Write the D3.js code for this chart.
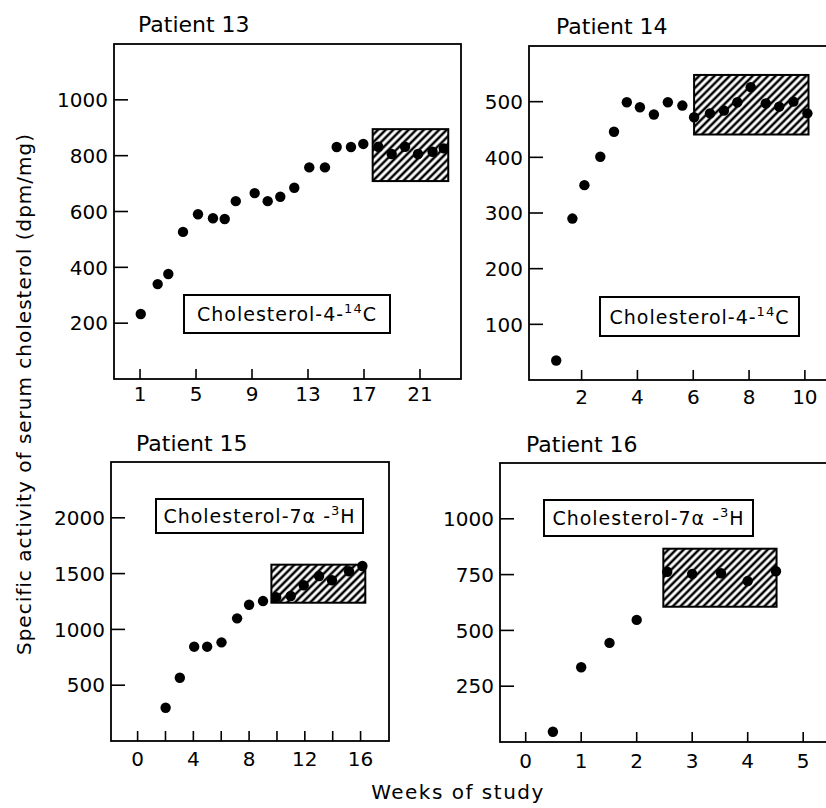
<!DOCTYPE html>
<html>
<head>
<meta charset="utf-8">
<script src="https://cdn.jsdelivr.net/npm/d3@7"></script>
<style>
  body { margin: 0; background: #fff; }
  svg { display: block; font-family: "DejaVu Sans", sans-serif; }
</style>
</head>
<body>
<svg id="chart" width="826" height="808"></svg>
<script>
// values (weeks, dpm/mg)
const weeks13 = [1.05, 2.26, 3.02, 4.07, 5.14, 6.21, 7.05, 7.84, 9.19, 10.12, 11.02, 12.02, 13.09, 14.21, 15.05, 16.07, 16.95, 18.02, 18.98, 19.93, 20.86, 21.9, 22.7];
const act13 = [233, 340, 376, 527, 590, 576, 573, 637, 666, 637, 653, 685, 758, 758, 831, 831, 842, 832, 806, 832, 806, 814, 826];

const weeks14 = [1.09, 1.67, 2.1, 2.67, 3.16, 3.62, 4.09, 4.59, 5.09, 5.61, 6.03, 6.6, 7.1, 7.58, 8.06, 8.6, 9.08, 9.59, 10.09];
const act14 = [35, 290, 350, 401, 446, 499, 490, 477, 499, 493, 472, 479, 484, 499, 526, 497, 491, 500, 479];

const weeks15 = [2.01, 3.03, 4.06, 4.99, 6.02, 7.14, 8.0, 9.0, 9.94, 10.99, 11.92, 13.02, 13.95, 15.17, 16.13];
const act15 = [298, 567, 845, 845, 884, 1099, 1221, 1254, 1288, 1299, 1395, 1478, 1440, 1521, 1568];

const weeks16 = [0.49, 1.0, 1.51, 2.0, 2.55, 3.0, 3.52, 4.0, 4.51];
const act16 = [46, 335, 444, 547, 763, 753, 756, 721, 765];

// plateau ranges (hatched boxes): [week from, week to, low, high]
const band13 = [17.62, 23.02, 709, 895];
const band14 = [6.03, 10.13, 441, 548];
const band15 = [9.6, 16.34, 1239, 1580];
const band16 = [2.48, 4.52, 606, 866];

const ticksX13 = [1, 5, 9, 13, 17, 21];
const ticksX14 = [2, 4, 6, 8, 10];
const ticksX15 = [0, 2, 4, 6, 8, 10, 12, 14, 16];
const labelsX15 = [0, 4, 8, 12, 16];
const ticksX16 = [0, 1, 2, 3, 4, 5];
const ticksY13 = [200, 400, 600, 800, 1000];
const ticksY14 = [100, 200, 300, 400, 500];
const ticksY15 = [500, 1000, 1500, 2000];
const ticksY16 = [250, 500, 750, 1000];

const panels = [
  { title: 'Patient 13', frame: [114, 44, 461, 379], xd: [-0.86, 23.93], yd: [0, 1200],
    wk: weeks13, val: act13, band: band13, xt: ticksX13, xl: ticksX13, yt: ticksY13,
    label: ['Cholesterol-4-', '14', 'C'], lbox: [184, 295, 390, 333], gap: 22, tpos: [138, 32] },
  { title: 'Patient 14', frame: [529, 46, 830, 380], xd: [0.115, 10.9], yd: [0, 600],
    wk: weeks14, val: act14, band: band14, xt: ticksX14, xl: ticksX14, yt: ticksY14,
    label: ['Cholesterol-4-', '14', 'C'], lbox: [600, 297, 799, 336], gap: 24, tpos: [556, 34] },
  { title: 'Patient 15', frame: [111, 462, 389, 741], xd: [-1.91, 18.04], yd: [0, 2500],
    wk: weeks15, val: act15, band: band15, xt: ticksX15, xl: labelsX15, yt: ticksY15,
    label: ['Cholesterol-7\u03b1 -', '3', 'H'], lbox: [156, 499, 363, 533], gap: 25, tpos: [136, 451] },
  { title: 'Patient 16', frame: [500, 463, 830, 742], xd: [-0.463, 5.483], yd: [0, 1250],
    wk: weeks16, val: act16, band: band16, xt: ticksX16, xl: ticksX16, yt: ticksY16,
    label: ['Cholesterol-7\u03b1 -', '3', 'H'], lbox: [544, 500, 753, 536], gap: 26, tpos: [526, 452] },
];

const svg = d3.select('#chart');
const hs = 5.4;

svg.append('defs')
  .append('pattern')
  .attr('id', 'hatch')
  .attr('patternUnits', 'userSpaceOnUse')
  .attr('width', hs)
  .attr('height', hs)
  .attr('patternTransform', 'rotate(45)')
  .call((p) => {
    p.append('rect').attr('width', hs).attr('height', hs).attr('fill', '#fff');
    p.append('line').attr('x1', hs / 2).attr('x2', hs / 2).attr('y1', 0).attr('y2', hs)
      .attr('stroke', '#000').attr('stroke-width', 2.5);
  });

panels.forEach((p) => {
  const [x0, y0, x1, y1] = p.frame;
  const x = d3.scaleLinear().domain(p.xd).range([x0, x1]);
  const y = d3.scaleLinear().domain(p.yd).range([y1, y0]);
  const g = svg.append('g');

  g.append('rect')
    .attr('x', x0).attr('y', y0)
    .attr('width', x1 - x0).attr('height', y1 - y0)
    .attr('fill', 'none').attr('stroke', '#000').attr('stroke-width', 1.8);

  // ticks inside the frame
  g.selectAll('.xt').data(p.xt).enter().append('line')
    .attr('x1', (d) => x(d)).attr('x2', (d) => x(d))
    .attr('y1', y1).attr('y2', y1 - 10)
    .attr('stroke', '#000').attr('stroke-width', 1.6);
  g.selectAll('.xl').data(p.xl).enter().append('text')
    .attr('x', (d) => x(d)).attr('y', y1 + p.gap)
    .attr('text-anchor', 'middle').attr('font-size', 20)
    .text((d) => d);

  g.selectAll('.yt').data(p.yt).enter().append('line')
    .attr('x1', x0).attr('x2', x0 + 14)
    .attr('y1', (d) => y(d)).attr('y2', (d) => y(d))
    .attr('stroke', '#000').attr('stroke-width', 1.6);
  g.selectAll('.yl').data(p.yt).enter().append('text')
    .attr('x', x0 - 6).attr('y', (d) => y(d)).attr('dy', '0.36em')
    .attr('text-anchor', 'end').attr('font-size', 20)
    .text((d) => d);

  // hatched plateau box
  const [bx0, bx1, blo, bhi] = p.band;
  g.append('rect')
    .attr('x', x(bx0)).attr('y', y(bhi))
    .attr('width', x(bx1) - x(bx0)).attr('height', y(blo) - y(bhi))
    .attr('fill', 'url(#hatch)').attr('stroke', '#000').attr('stroke-width', 2);

  g.selectAll('.dot').data(p.wk).enter().append('circle')
    .attr('cx', (d) => x(d)).attr('cy', (d, i) => y(p.val[i]))
    .attr('r', 5.2).attr('fill', '#000');

  // isotope label
  const [lx0, ly0, lx1, ly1] = p.lbox;
  g.append('rect')
    .attr('x', lx0).attr('y', ly0).attr('width', lx1 - lx0).attr('height', ly1 - ly0)
    .attr('fill', '#fff').attr('stroke', '#000').attr('stroke-width', 2);
  const t = g.append('text')
    .attr('x', (lx0 + lx1) / 2).attr('y', (ly0 + ly1) / 2 + 7)
    .attr('text-anchor', 'middle').attr('font-size', 19)
    .attr('letter-spacing', 1);
  t.append('tspan').text(p.label[0]);
  t.append('tspan').attr('dy', -8).attr('font-size', 13).text(p.label[1]);
  t.append('tspan').attr('dy', 8).text(p.label[2]);

  g.append('text')
    .attr('x', p.tpos[0]).attr('y', p.tpos[1])
    .attr('font-size', 22)
    .text(p.title);
});

svg.append('text')
  .attr('transform', 'translate(31,394) rotate(-90)')
  .attr('text-anchor', 'middle').attr('font-size', 20).attr('letter-spacing', 1)
  .text('Specific activity of serum cholesterol (dpm/mg)');

svg.append('text')
  .attr('x', 458).attr('y', 799)
  .attr('text-anchor', 'middle').attr('font-size', 20).attr('letter-spacing', 1.5)
  .text('Weeks of study');
</script>
</body>
</html>
